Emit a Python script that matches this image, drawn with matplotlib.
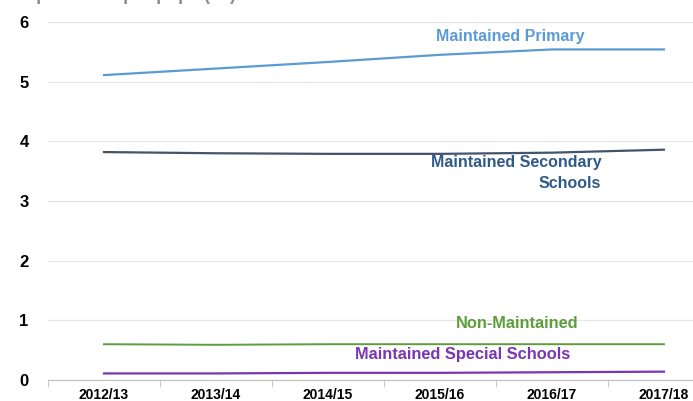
import matplotlib.pyplot as plt
from matplotlib import font_manager

# --- data ---
years = ["2012/13", "2013/14", "2014/15", "2015/16", "2016/17", "2017/18"]
primary = [5.11, 5.22, 5.33, 5.45, 5.54, 5.54]
secondary = [3.82, 3.80, 3.79, 3.79, 3.81, 3.86]
non_maintained = [0.60, 0.59, 0.60, 0.60, 0.60, 0.60]
special = [0.11, 0.11, 0.12, 0.12, 0.13, 0.14]

names = {f.name for f in font_manager.fontManager.ttflist}
narrow = "Liberation Sans Narrow" if "Liberation Sans Narrow" in names else "Liberation Sans"
plt.rcParams["font.family"] = ["Liberation Sans", "DejaVu Sans"]

fig = plt.figure(figsize=(6.93, 4.01), dpi=100)
ax = fig.add_axes([48 / 693, 1 - 380 / 401, 1 - 48 / 693, (380 - 22) / 401])

x = range(len(years))
ax.plot(x, primary, color="#5B9BD5", lw=1.6)
ax.plot(x, secondary, color="#44546A", lw=1.6)
ax.plot(x, non_maintained, color="#5E9E3A", lw=1.4)
ax.plot(x, special, color="#7A35B0", lw=1.6)

ax.set_yticks(range(0, 7))
ax.yaxis.grid(True, color="#E6E6E6", lw=0.9)
ax.set_axisbelow(True)

ax.set_xticks(list(x))
ax.set_xticklabels(years, fontsize=10, fontweight="bold", family=narrow)
ax.set_xticks([i - 0.5 for i in range(7)], minor=True)
ax.tick_params(axis="x", which="major", length=0, pad=6)
ax.tick_params(axis="x", which="minor", length=5, color="#BFBFBF")
ax.tick_params(axis="y", length=0, pad=14, labelsize=12)
for lab in ax.get_yticklabels():
    lab.set_fontweight("bold")

# limits after the ticks, otherwise the minor ticks widen the view
ax.set_ylim(0, 6)
ax.set_xlim(-0.5, 5.26)

for s in ["top", "right", "left"]:
    ax.spines[s].set_visible(False)
ax.spines["bottom"].set_color("#BFBFBF")

ax.text(3.625, 5.75, "Maintained Primary", color="#5B9BD5", fontsize=11.5,
        fontweight="bold", ha="center", va="center")
ax.text(4.44, 3.47, "Maintained Secondary\nSchools", color="#2F5A88", fontsize=11.5,
        fontweight="bold", ha="right", va="center", linespacing=1.5)
ax.text(3.69, 0.94, "Non-Maintained", color="#5E9E3A", fontsize=11.75,
        fontweight="bold", ha="center", va="center", family=narrow)
ax.text(3.2, 0.42, "Maintained Special Schools", color="#7A35B0", fontsize=11.75,
        fontweight="bold", ha="center", va="center", family=narrow)

# title mostly cut off at the top, like the source image
fig.text(0.02, 1.0 - 0.5 / 401, "Expenditure per pupil (£k)", color="#8C8C8C",
         fontsize=13, fontweight="bold", va="baseline")

fig.savefig("out.png", dpi=100)
